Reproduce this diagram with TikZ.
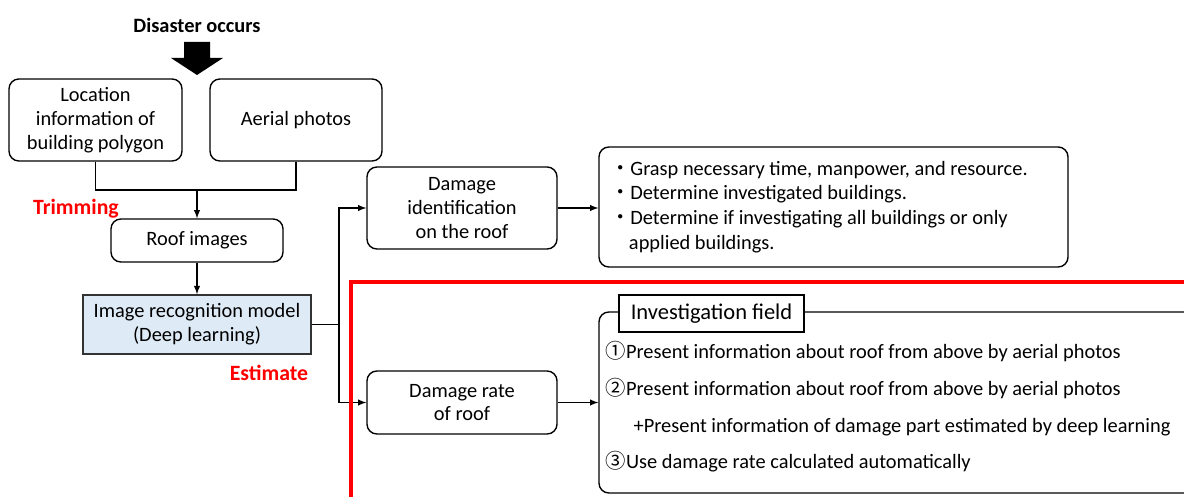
\documentclass[tikz,border=0pt]{standalone}
\usepackage{fontspec}
\setmainfont{Carlito}
\newfontfamily\cjk{Noto Sans CJK JP}
\usepackage{tikz}
\definecolor{modelblue}{HTML}{DEEBF7}
\newcommand{\unitpx}{0.025cm}

\begin{document}
\begin{tikzpicture}[x=0.025cm, y=-0.025cm, line width=1pt,
		box/.style={draw, rounded corners=7pt, align=center, inner sep=2pt, font=\fontsize{14.5}{17}\selectfont},
		redlbl/.style={text=red, font=\fontsize{15.5}{18}\selectfont\bfseries}]
	\useasboundingbox (0,0) rectangle (1184,497);
	
	\node[font=\fontsize{14.5}{17}\selectfont\bfseries] (disaster) at (197,25) {Disaster occurs};
	\fill (184,42) -- (210,42) -- (210,58) -- (223,58) -- (197,75) -- (171,58) -- (184,58) -- cycle;
	
	\node[box, minimum width=173*\unitpx, minimum height=82*\unitpx] (loc) at (95.5,120) {Location\\information of\\building polygon};
	\node[box, minimum width=172*\unitpx, minimum height=82*\unitpx] (aerial) at (296,120) {Aerial photos};
	\node[box, minimum width=172*\unitpx, minimum height=43*\unitpx] (roof) at (197,240.5) {Roof images};
	\node[draw=black!80, line width=1.2pt, fill=modelblue, align=center, font=\fontsize{14.5}{17}\selectfont, minimum width=228*\unitpx, minimum height=59*\unitpx] (model) at (197,324.5) {Image recognition model\\(Deep learning)};
	
	\node[box, minimum width=190*\unitpx, minimum height=82*\unitpx] (damid) at (462,208) {Damage\\identification\\on the roof};
	\node[box, minimum width=190*\unitpx, minimum height=63*\unitpx] (damrate) at (462,402.5) {Damage rate\\of roof};
	
	\node[box, align=flush left, font=\fontsize{14.5}{17.6}\selectfont, text width=447*\unitpx, inner xsep=11*\unitpx, minimum height=120*\unitpx] (grasp) at (833.5,207) {{\cjk ・}Grasp necessary time, manpower, and resource.\\{\cjk ・}Determine investigated buildings.\\{\cjk ・}Determine if investigating all buildings or only\\\hspace*{13.5pt}applied buildings.};
	
	\node[draw, rounded corners=7pt, minimum width=601*\unitpx, minimum height=181*\unitpx] (field) at (899.5,402.5) {};
	\node[draw, fill=white, font=\fontsize{16}{19}\selectfont, minimum width=185*\unitpx, minimum height=37*\unitpx] (fieldlbl) at (711.5,313.5) {Investigation field};
	\node[anchor=west, align=left, inner sep=0pt, font=\fontsize{14.5}{26.1}\selectfont] (fieldtxt) at (605,407) {{\cjk ①}Present information about roof from above by aerial photos\\{\cjk ②}Present information about roof from above by aerial photos\\\hspace*{19.9pt}+Present information of damage part estimated by deep learning\\{\cjk ③}Use damage rate calculated automatically};
	
	% connectors
	\coordinate (join) at (197,190);
	\coordinate (split) at (339,324.5);
	\draw (loc.south) |- (join) -| (aerial.south);
	\draw[-latex] (join) -- (roof.north);
	\draw[-latex] (roof.south) -- (model.north);
	\draw (model.east) -- (split);
	\draw[-latex] (split) |- (damid.west);
	\draw[-latex] (split) |- (damrate.west);
	\draw[-latex] (damid.east) -- (damid.east -| grasp.west);
	\draw[-latex] (damrate.east) -- (field.west);
	
	\node[redlbl] (trim) at (76,209) {Trimming};
	\node[redlbl] (est) at (269,373) {Estimate};
	
	\draw[red, line width=2.4pt] (351,520) -- (351,282) -- (1200,282);
\end{tikzpicture}
\end{document}
